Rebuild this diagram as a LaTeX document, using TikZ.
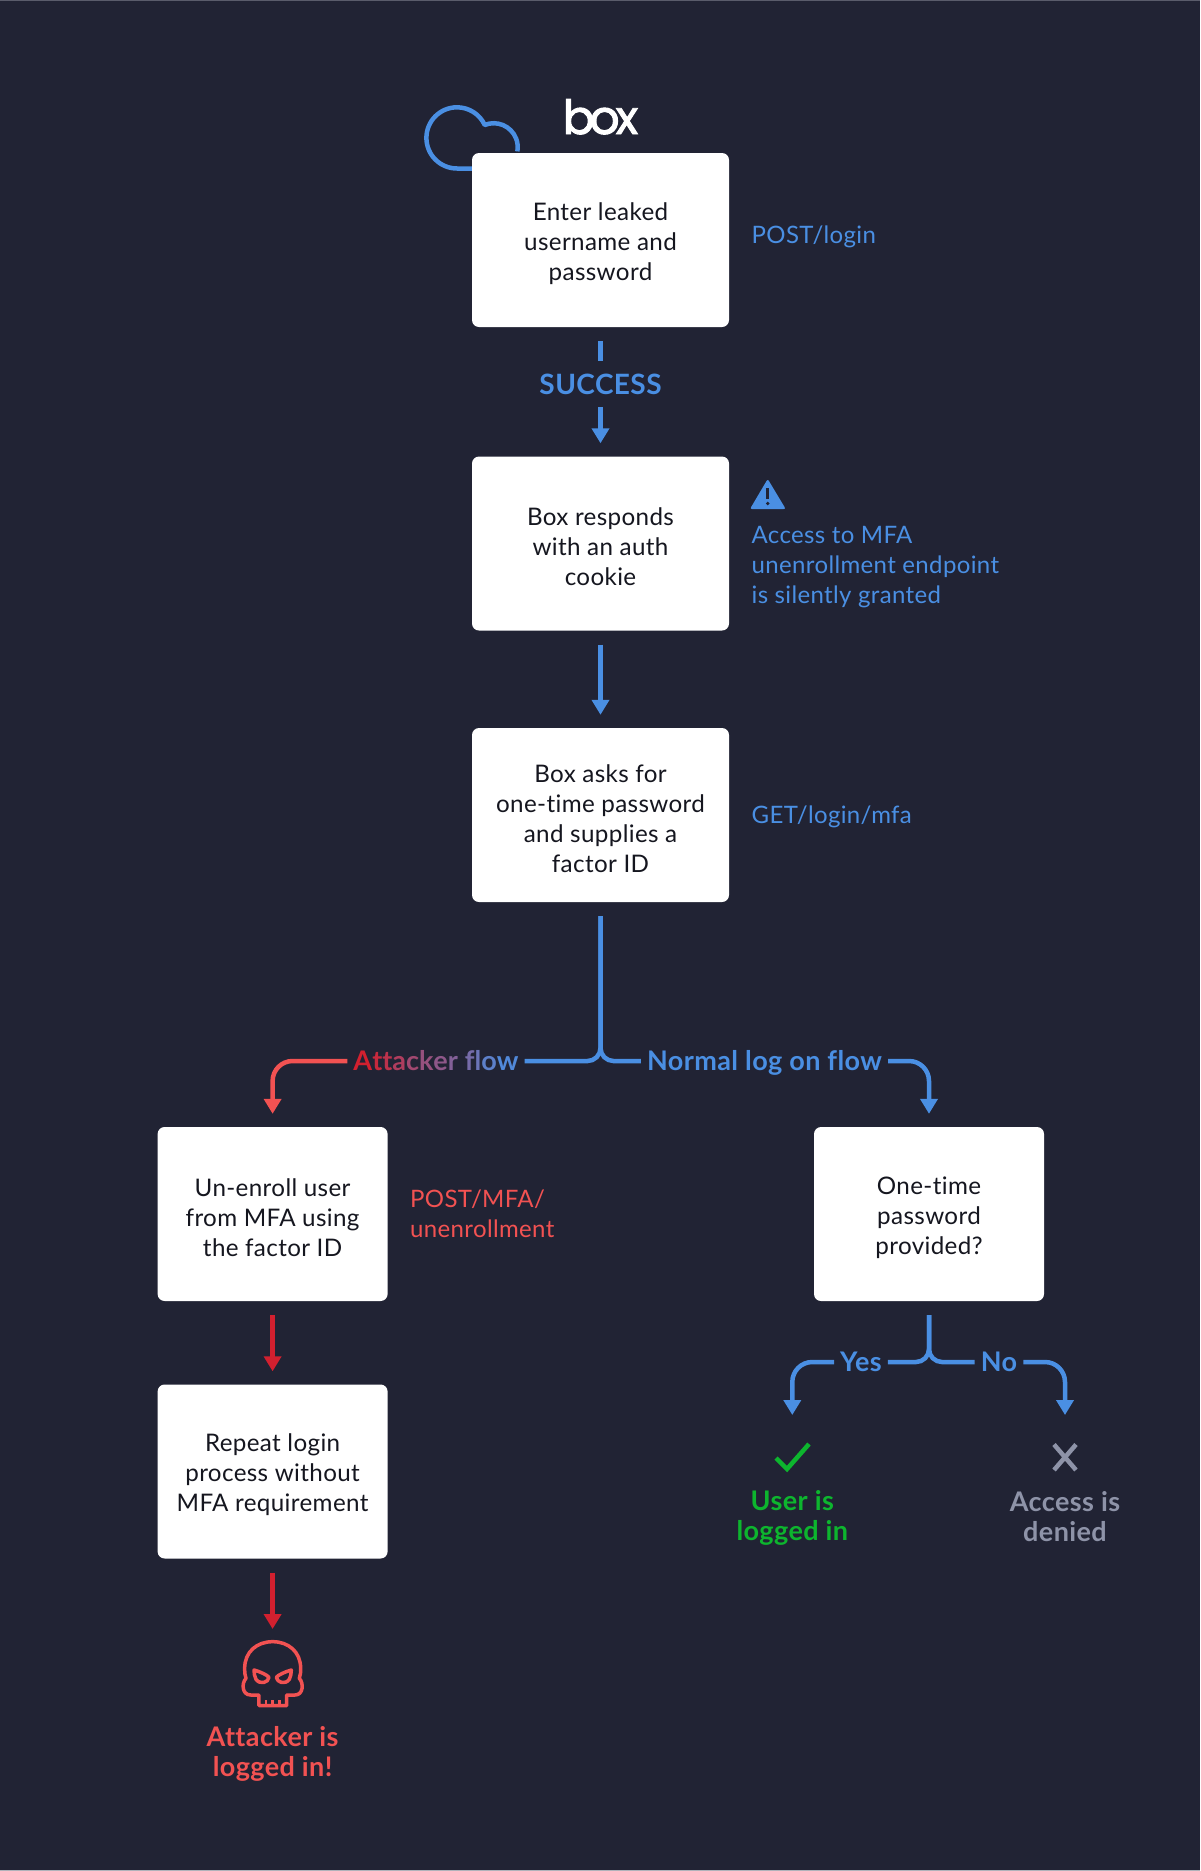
\documentclass[tikz,border=0pt]{standalone}
\usepackage{fontspec}
\setmainfont[LetterSpace=1.5,Ligatures=NoCommon]{Lato}
\newfontfamily\logofont[FakeBold=2]{Poppins}
\usetikzlibrary{arrows.meta}
\definecolor{bgc}{HTML}{212334}
\definecolor{bluec}{HTML}{4A8FE3}
\definecolor{redc}{HTML}{F25252}
\definecolor{darkredc}{HTML}{D2202F}
\definecolor{greenc}{HTML}{0DB52E}
\definecolor{grayc}{HTML}{8E93A8}
\definecolor{inkc}{HTML}{15161F}
\definecolor{edgec}{HTML}{5A5C6B}
\definecolor{footc}{HTML}{B0B2BA}
\newcommand{\gc}[2]{\textcolor{bluec!#1!darkredc}{#2}}
\newcommand{\T}{\rule{0pt}{25pt}}
\tikzset{
  flowbox/.style={fill=white,rounded corners=7pt,minimum width=257pt,minimum height=174pt,inner sep=0pt,align=center,text=inkc,font=\fontsize{24.2}{30}\selectfont},
  smallbox/.style={flowbox,minimum width=230pt},
  sidenote/.style={anchor=west,align=left,inner sep=0pt,font=\fontsize{24}{30}\selectfont},
  flowlabel/.style={inner xsep=6pt,inner ysep=0pt,text height=18.5pt,text depth=0.5pt,font=\bfseries\fontsize{27}{30}\selectfont},
  outcome/.style={align=center,inner sep=0pt,font=\bfseries\fontsize{27}{30}\selectfont},
  conn/.style={line width=4.5pt,bluec},
  tip/.style={-{Triangle[width=17pt,length=15pt]}},
  gapped/.style={shorten <=14pt,shorten >=13pt},
}
\begin{document}
\begin{tikzpicture}[x=1pt,y=-1pt]
\fill[bgc] (0,0) rectangle (1200,1871);
\useasboundingbox (0,0) rectangle (1200,1871);
\fill[edgec] (0,0) rectangle (1200,1);
\fill[footc] (0,1869.5) rectangle (1200,1871);
% cloud behind first box
\draw[line width=4.5pt,bluec,line join=round] (480,168.5) -- (457,168.5) arc (270:25:30.6pt) arc (112:-10:24pt);
% logo
\node[text=white,inner sep=0pt,anchor=base] (logo) at (600.5,134) {\logofont\fontsize{47}{47}\selectfont b\kern-5pt o\kern-4pt x};
% boxes
\node[flowbox] (b1) at (600.5,240) {\T Enter leaked\\username and\\password};
\node[flowbox] (b2) at (600.5,543.5) {\T Box responds\\with an auth\\cookie};
\node[flowbox] (b3) at (600.5,815) {\T Box asks for\\one-time password\\and supplies a\\factor ID};
\node[smallbox] (b4) at (272.6,1214) {\T Un-enroll user\\from MFA using\\the factor ID};
\node[smallbox] (b5) at (929,1214) {\T One-time\\password\\provided?};
\node[smallbox] (b6) at (272.6,1471.5) {\T Repeat login\\process without\\MFA requirement};
% side notes
\node[sidenote,text=bluec] (n1) at (751.5,236.5) {POST/login};
\node[sidenote,text=bluec] (n2) at (751.5,567) {Access to MFA\\unenrollment endpoint\\is silently granted};
\node[sidenote,text=bluec] (n3) at (751.5,816.5) {GET/login/mfa};
\node[sidenote,text=redc] (n4) at (410,1214) {POST/MFA/\\unenrollment};
% warning icon
\fill[bluec,rounded corners=2pt] (767.7,479) -- (785.7,509) -- (750,509) -- cycle;
\draw[bgc,line width=3pt] (767.7,488) -- (767.7,499);
\fill[bgc] (767.7,503.5) circle (1.8pt);
% labels on connectors
\node[text=bluec,inner sep=0pt,minimum height=46pt,font=\bfseries\fontsize{28}{30}\selectfont] (succ) at (600.5,384) {SUCCESS};
\node[flowlabel] (alab) at (436,1061) {\gc{0}{A}\gc{8}{t}\gc{16}{t}\gc{26}{a}\gc{36}{c}\gc{44}{k}\gc{50}{e}\gc{58}{r} \gc{68}{f}\gc{76}{l}\gc{86}{o}\gc{95}{w}};
\node[flowlabel,text=bluec] (nlab) at (764.5,1061) {Normal log on flow};
\node[flowlabel,text=bluec] (ylab) at (861,1362) {Yes};
\node[flowlabel,text=bluec] (nolab) at (999,1362) {No};
% connectors
\draw[conn,shorten <=14pt] (b1.south) -- (succ.north);
\draw[conn,tip,shorten >=13pt] (succ.south) -- (b2.north);
\draw[conn,tip,gapped] (b2.south) -- (b3.north);
\draw[conn,rounded corners=13pt,shorten <=14pt] (b3.south) |- (alab.east);
\draw[conn,rounded corners=13pt,shorten <=14pt] (b3.south) |- (nlab.west);
\draw[conn,redc,tip,rounded corners=20pt,shorten >=13pt] (alab.west) -| (b4.north);
\draw[conn,tip,rounded corners=20pt,shorten >=13pt] (nlab.east) -| (b5.north);
\draw[conn,darkredc,tip,gapped] (b4.south) -- (b6.north);
\draw[conn,rounded corners=13pt,shorten <=14pt] (b5.south) |- (ylab.east);
\draw[conn,rounded corners=13pt,shorten <=14pt] (b5.south) |- (nolab.west);
% outcomes
\coordinate (okicon) at (792.3,1457);
\coordinate (noicon) at (1065,1457);
\coordinate (skullicon) at (272.6,1637);
\draw[conn,tip,rounded corners=20pt,shorten >=42pt] (ylab.west) -| (okicon);
\draw[conn,tip,rounded corners=20pt,shorten >=42pt] (nolab.east) -| (noicon);
\draw[conn,darkredc,tip,shorten <=14pt,shorten >=8pt] (b6.south) -- (skullicon);
\draw[line width=4.5pt,greenc] (776,1458) -- (787,1469) -- (809,1444);
\draw[line width=4.5pt,grayc] (1054,1444.5) -- (1076,1470) (1076,1444.5) -- (1054,1470);
\node[outcome,text=greenc] (ok) at (792.3,1517.5) {User is\\logged in};
\node[outcome,text=grayc] (no) at (1065,1517) {Access is\\denied};
\node[outcome,text=redc] (bad) at (272.6,1754) {Attacker is\\logged in!};
% skull
\begin{scope}[x=0.3333pt,y=-0.3333pt,shift={(180pt,-1560pt)},line width=3.5pt,redc,line join=round]
\draw (237,437) -- (320,437) -- (320,405) -- (345,405) .. controls (370,405) and (372,370) .. (358,355) .. controls (362,345) and (362,335) .. (362,325) .. controls (362,275) and (325,245) .. (278,245) .. controls (231,245) and (194,275) .. (194,325) .. controls (194,335) and (194,345) .. (198,355) .. controls (184,370) and (186,405) .. (212,405) -- (237,405) -- cycle;
\draw[line width=2.5pt] (258,420) -- (258,437) (278,420) -- (278,437) (298,420) -- (298,437);
\draw (222,330) .. controls (240,335) and (262,345) .. (267,352) .. controls (265,368) and (240,375) .. (228,358) .. controls (224,350) and (222,340) .. (222,330) -- cycle;
\draw (334,330) .. controls (316,335) and (294,345) .. (289,352) .. controls (291,368) and (316,375) .. (328,358) .. controls (332,350) and (334,340) .. (334,330) -- cycle;
\end{scope}
\end{tikzpicture}
\end{document}
